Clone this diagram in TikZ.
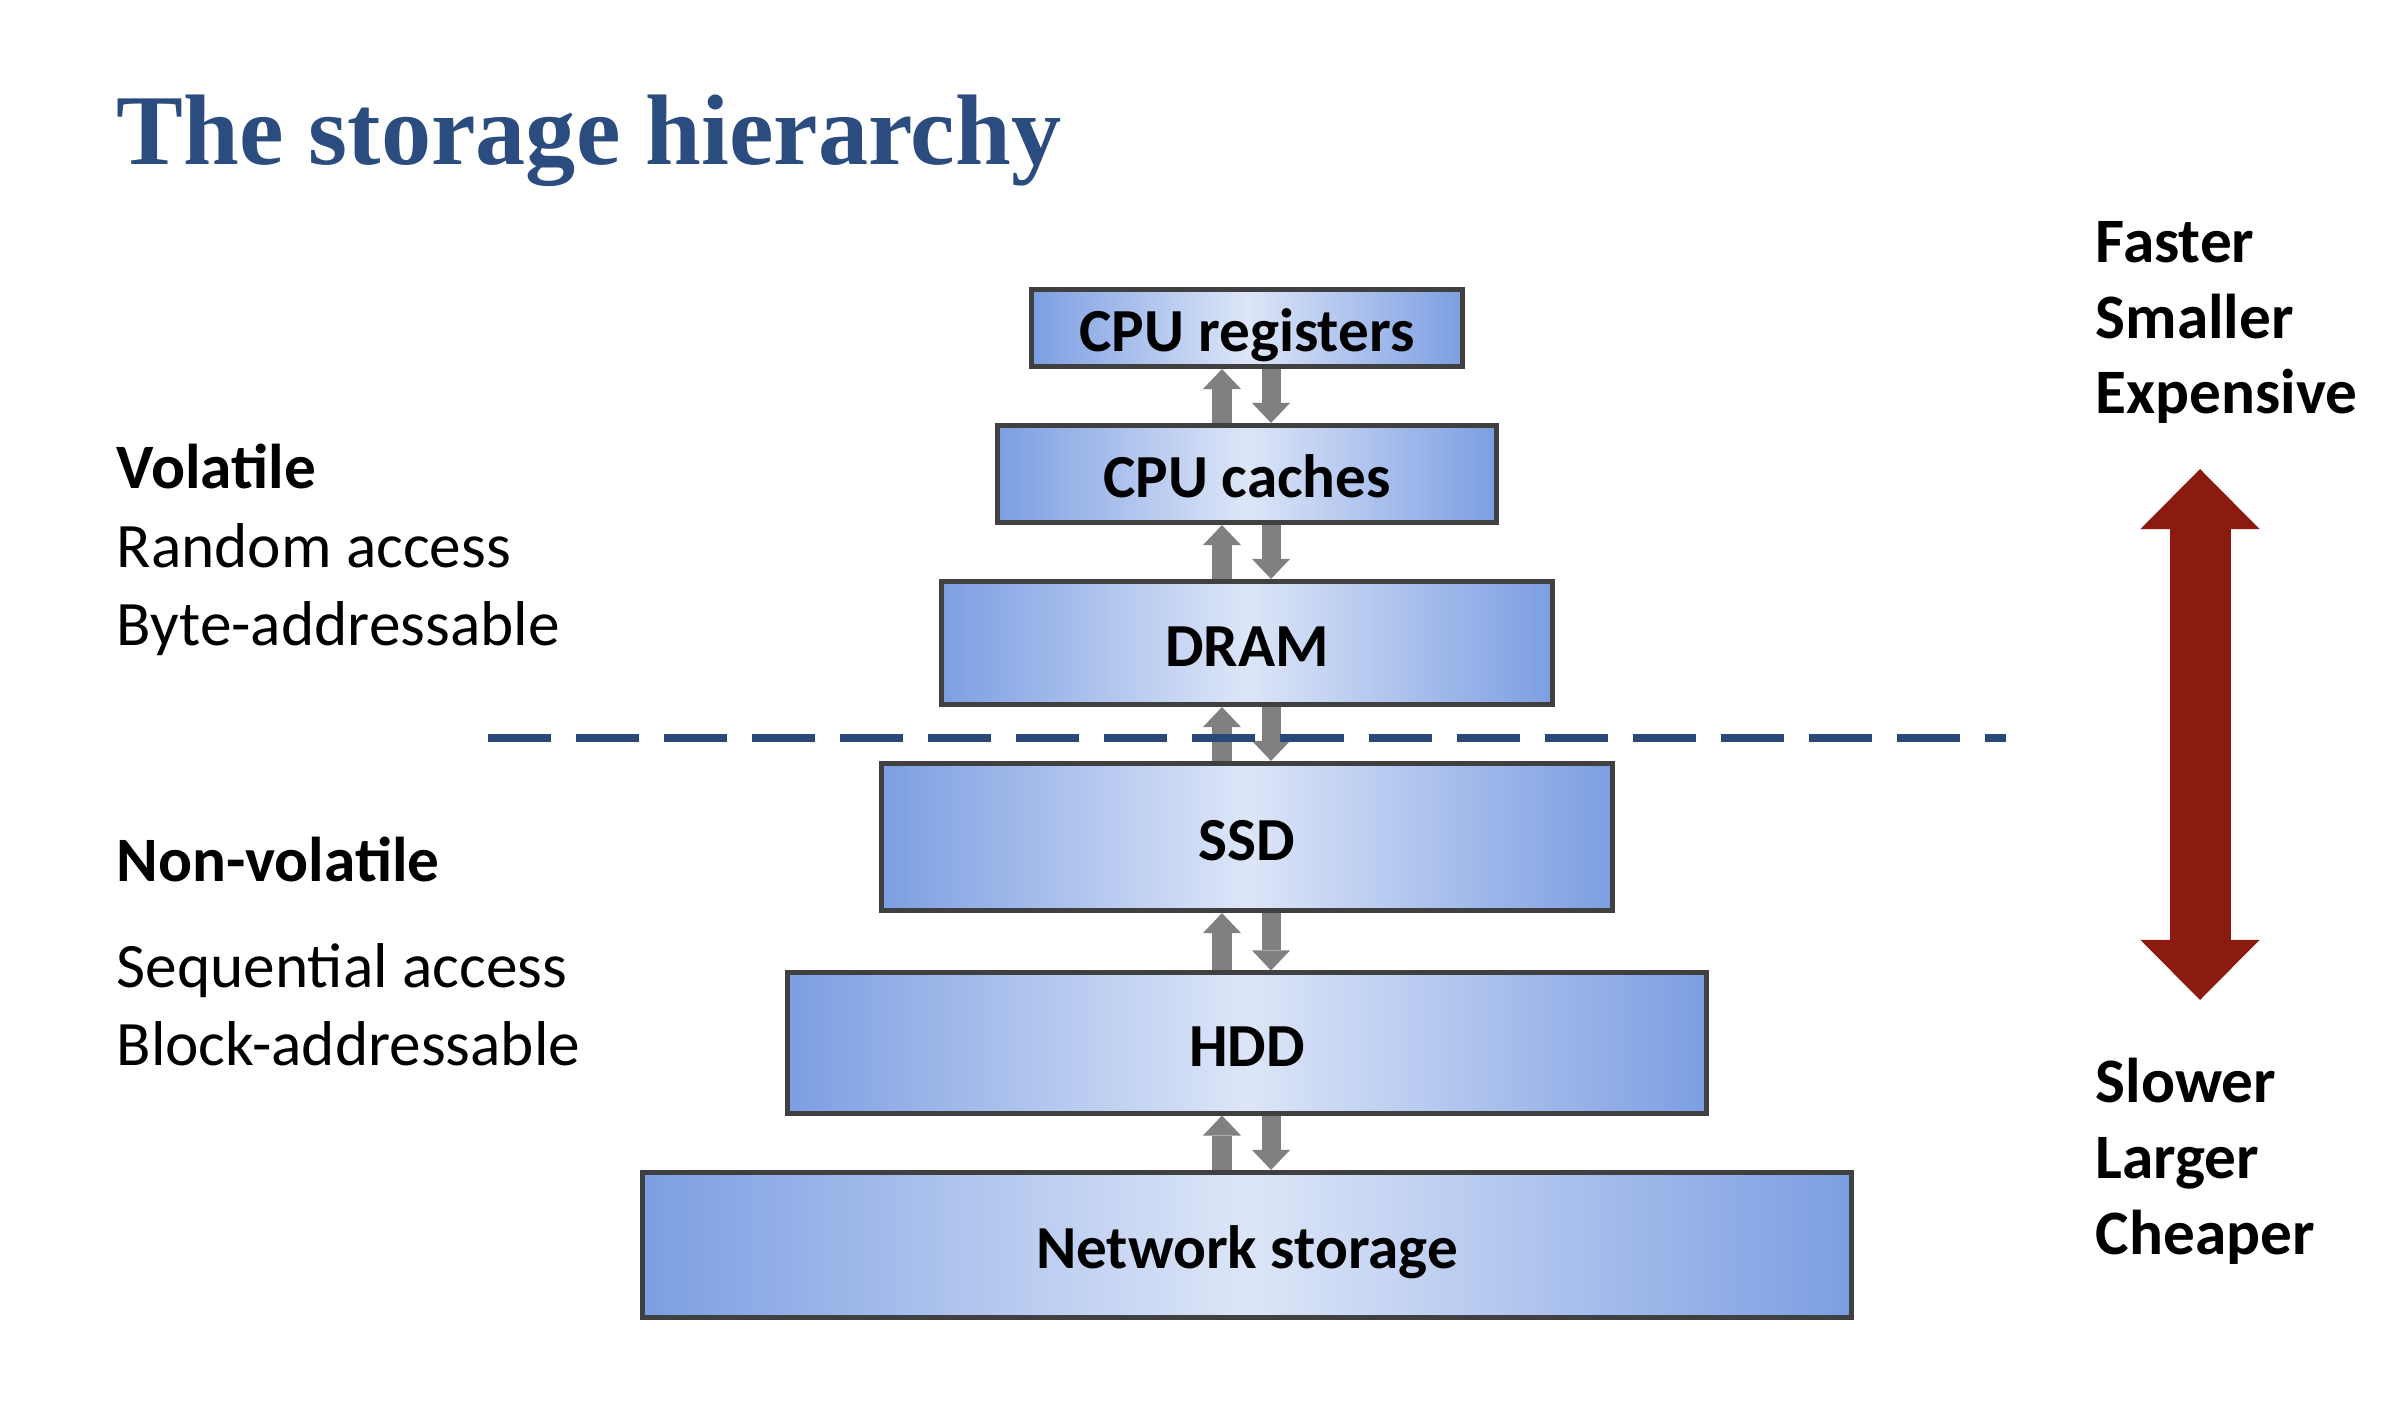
\documentclass[tikz,border=0pt]{standalone}
\usepackage{fontspec}
\setmainfont{Carlito}
\newfontfamily\titlefont{Liberation Serif}
\usetikzlibrary{arrows.meta}

\definecolor{titleblue}{RGB}{43,76,126}
\definecolor{dashblue}{RGB}{41,72,122}
\definecolor{boxedge}{RGB}{124,158,226}
\definecolor{boxmid}{RGB}{221,230,248}
\definecolor{boxline}{RGB}{64,64,64}
\definecolor{xfergray}{RGB}{128,128,128}
\definecolor{scalered}{RGB}{139,27,17}

\newcommand\sidesize{\fontsize{18}{22}\selectfont}
\newcommand\tiersize{\fontsize{17.4}{21}\selectfont}

\tikzset{
  tier/.style={draw=boxline, line width=0.05cm, left color=boxedge,
    right color=boxedge, middle color=boxmid, font=\tiersize\bfseries,
    inner sep=0pt, text height=0.46cm, text depth=0pt},
  xfer/.style={draw=xfergray, line width=0.19cm,
    -{Triangle[width=0.38cm,length=0.2cm,line width=0pt]}},
  sidetext/.style={anchor=base west, inner sep=0pt, font=\sidesize},
  sidehead/.style={sidetext, font=\sidesize\bfseries},
}

\begin{document}
\begin{tikzpicture}[x=0.01cm, y=-0.01cm]
\useasboundingbox (0,0) rectangle (2390,1422);

\node[anchor=base west, inner sep=0pt, text=titleblue,
  font=\titlefont\bfseries\fontsize{28.5}{34}\selectfont]
  (title) at (116,165) {The storage hierarchy};

% the levels
\node[tier, minimum width=4.31cm, minimum height=0.77cm] (reg) at (1247,328) {CPU registers};
\node[tier, minimum width=4.98cm, minimum height=0.97cm] (cache) at (1247,474) {CPU caches};
\node[tier, minimum width=6.11cm, minimum height=1.23cm] (dram) at (1247,643) {DRAM};
\node[tier, minimum width=7.30cm, minimum height=1.47cm] (ssd) at (1247,837) {SSD};
\node[tier, minimum width=9.18cm, minimum height=1.40cm] (hdd) at (1247,1043) {HDD};
\node[tier, minimum width=12.09cm, minimum height=1.45cm] (net) at (1247,1245) {Network storage};

\foreach \a/\b in {reg/cache, cache/dram, dram/ssd, ssd/hdd, hdd/net} {
  \draw[xfer] ([xshift=-0.25cm]\b.north) -- ([xshift=-0.25cm]\a.south);
  \draw[xfer] ([xshift=0.24cm]\a.south) -- ([xshift=0.24cm]\b.north);
}

% volatile / non-volatile split
\coordinate (divL) at (488,738);
\coordinate (divR) at (2006,738);
\draw[dashblue, line width=0.08cm, dash pattern=on 0.63cm off 0.25cm] (divL) -- (divR);

\node[sidehead] (vol) at (116,489) {Volatile};
\node[sidetext] (rand) at (116,568) {Random access};
\node[sidetext] (byte) at (116,646) {Byte-addressable};
\node[sidehead] (nvol) at (116,882) {Non-volatile};
\node[sidetext] (seq) at (116,988) {Sequential access};
\node[sidetext] (blk) at (116,1066) {Block-addressable};

% trade-off scale
\node[sidehead] (fast) at (2095,263) {Faster};
\node[sidehead] (small) at (2095,339) {Smaller};
\node[sidehead] (dear) at (2095,414) {Expensive};
\node[sidehead] (slow) at (2095,1103) {Slower};
\node[sidehead] (large) at (2095,1179) {Larger};
\node[sidehead] (cheap) at (2095,1254) {Cheaper};

\coordinate (top) at (2200,469);
\coordinate (bot) at (2200,1000);
\draw[scalered, line width=0.61cm,
  {Triangle[width=1.19cm,length=0.6cm,line width=0pt]}-{Triangle[width=1.19cm,length=0.6cm,line width=0pt]}]
  (top) -- (bot);
\end{tikzpicture}
\end{document}
